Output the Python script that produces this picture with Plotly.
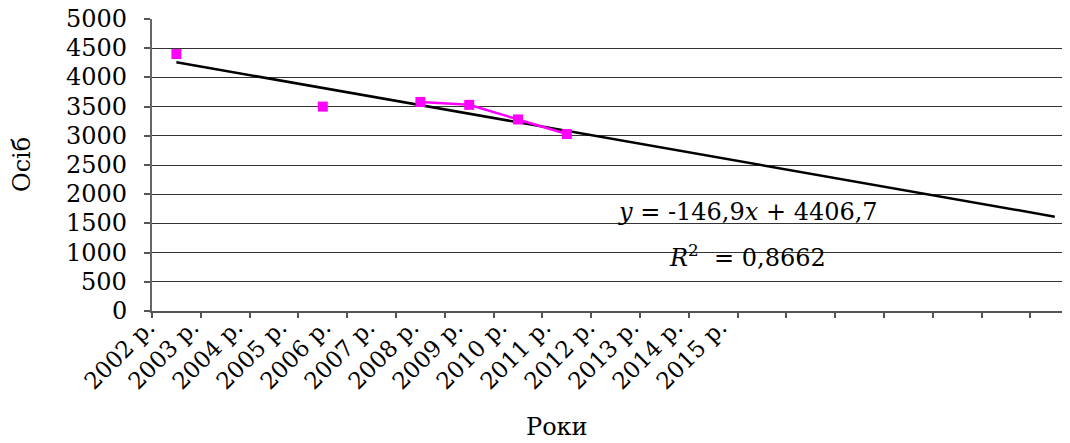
import plotly.graph_objects as go

# ---- data ----
year_labels = ["2002 р.", "2003 р.", "2004 р.", "2005 р.", "2006 р.", "2007 р.", "2008 р.",
               "2009 р.", "2010 р.", "2011 р.", "2012 р.", "2013 р.", "2014 р.", "2015 р."]
n_categories = 19
point_idx = [1, 4, 6, 7, 8, 9]          # category positions of observed points
point_val = [4400, 3500, 3580, 3530, 3280, 3030]
line_idx = [6, 7, 8, 9]                 # consecutive points joined by a line
line_val = [3580, 3530, 3280, 3030]
trend_slope = -146.9
trend_intercept = 4406.7
y_ticks = list(range(0, 5001, 500))

FONT = "DejaVu Serif"
MAG = "#FF00FF"

trend_x = list(range(1, n_categories + 1))
trend_y = [trend_slope * x + trend_intercept for x in trend_x]

fig = go.Figure()
fig.add_trace(go.Scatter(x=trend_x, y=trend_y, mode="lines",
                         line=dict(color="black", width=2.5), showlegend=False, hoverinfo="skip"))
fig.add_trace(go.Scatter(x=line_idx, y=line_val, mode="lines",
                         line=dict(color=MAG, width=2.5), showlegend=False))
fig.add_trace(go.Scatter(x=point_idx, y=point_val, mode="markers",
                         marker=dict(color=MAG, symbol="square", size=10), showlegend=False))
# invisible helper trace for the label axis
fig.add_trace(go.Scatter(x=list(range(len(year_labels))), y=[None] * len(year_labels),
                         xaxis="x2", yaxis="y2", mode="markers", marker=dict(opacity=0),
                         showlegend=False, hoverinfo="skip"))

OFF = 8  # page body margin
paper_left = 120          # left edge of the paper plotting region (page px)
plot_left, plot_right = 152, 1070
Wp = plot_right - paper_left
cat_w = 48.8
x_end = 0.5 + (plot_right - plot_left) / cat_w
label_step = 44.0
label0 = 148
span2 = Wp / label_step
a2 = -(label0 - paper_left) / label_step
ylab_right = 129

ytick_annotations = [
    dict(text=str(v), x=(ylab_right - paper_left) / Wp, y=v, xref="paper", yref="y",
         xanchor="right", yanchor="middle", showarrow=False,
         font=dict(family=FONT, size=24, color="black"))
    for v in y_ticks
]

fig.update_layout(
    width=1070 - OFF, height=443 - OFF,
    margin=dict(l=paper_left - OFF, r=0, t=19 - OFF, b=132),
    paper_bgcolor="white", plot_bgcolor="rgba(0,0,0,0)",
    font=dict(family=FONT, size=24, color="black"),
    xaxis=dict(domain=[(plot_left - paper_left) / Wp, 1], anchor="y",
               range=[0.5, x_end], tickmode="array",
               tickvals=[i + 0.5 for i in range(n_categories + 1)],
               showticklabels=False, ticks="outside", ticklen=5, tickwidth=1.5,
               tickcolor="#555", showgrid=False, zeroline=False,
               showline=True, linecolor="#555", linewidth=1.5),
    yaxis=dict(domain=[0, 1], anchor="x", range=[0, 5000], tickmode="array", tickvals=y_ticks,
               ticks="outside", ticklen=6, tickcolor="#555", tickwidth=1.5,
               showgrid=True, gridcolor="#333", gridwidth=1, showticklabels=False,
               showline=True, linecolor="#666", linewidth=2, zeroline=False),
    xaxis2=dict(domain=[0, 1], anchor="y2", range=[a2, a2 + span2],
                tickmode="array", tickvals=list(range(len(year_labels))), ticktext=year_labels,
                tickangle=-45, ticks="", showline=False, showgrid=False, zeroline=False,
                tickfont=dict(family=FONT, size=23, color="black")),
    yaxis2=dict(domain=[0.01, 1], anchor="x2", range=[0, 1], visible=False,
                showgrid=False, zeroline=False),
    annotations=ytick_annotations + [
        dict(text="<i>y</i> = -146,9<i>x</i> + 4406,7", x=10.0, y=1700, xref="x", yref="y",
             xanchor="left", yanchor="middle", showarrow=False,
             font=dict(family=FONT, size=24, color="black")),
        dict(text="<i>R</i><sup>2</sup>  = 0,8662", x=11.05, y=950, xref="x", yref="y",
             xanchor="left", yanchor="middle", showarrow=False,
             font=dict(family=FONT, size=24, color="black")),
        dict(text="Роки", x=(557 - paper_left) / Wp, y=-0.397,
             xref="paper", yref="paper", xanchor="center", yanchor="middle", showarrow=False,
             font=dict(family=FONT, size=24, color="black")),
        dict(text="Осіб", x=-(paper_left - 22) / Wp, y=0.5,
             xref="paper", yref="paper", xanchor="center", yanchor="middle", textangle=-90,
             showarrow=False, font=dict(family=FONT, size=24, color="black")),
    ],
)

fig.write_html("out.html")
